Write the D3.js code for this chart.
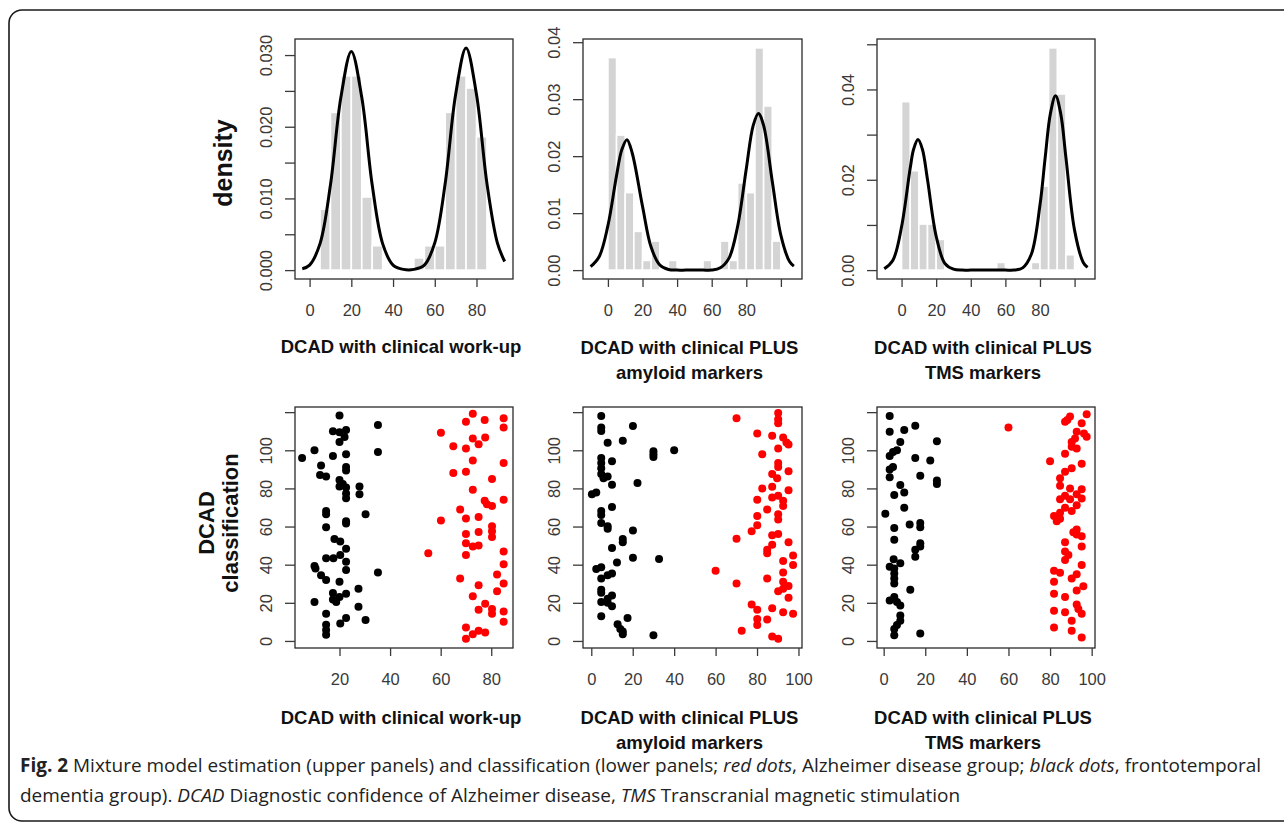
<!DOCTYPE html>
<html><head><meta charset="utf-8">
<script src="https://cdn.jsdelivr.net/npm/d3@7"></script>
<style>body{margin:0;background:#fff}svg{display:block}</style>
</head><body>
<script>
// ---------------- DATA ----------------
// Histograms (bin start, bin width 5) and density heights
const histA_start = [5,10,15,20,25,30,50,55,60,65,70,75,80];
const histA_dens  = [0.0085,0.0220,0.0271,0.0271,0.0102,0.0034,0.0017,0.0034,0.0034,0.0220,0.0271,0.0254,0.0186];
const histB_start = [0,5,10,15,20,25,35,55,65,70,75,80,85,90,95];
const histB_dens  = [0.0373,0.0237,0.0136,0.0068,0.0017,0.0051,0.0017,0.0017,0.0051,0.0017,0.0153,0.0136,0.0390,0.0288,0.0051];
const histC_start = [0,5,10,15,20,55,75,80,85,90,95];
const histC_dens  = [0.0373,0.0220,0.0102,0.0102,0.0068,0.0017,0.0017,0.0186,0.0492,0.0390,0.0034];

// Mixture density curves
const curveA_x = [-3.5,0,5,10,15,20,25,30,35,40,45,50,55,60,65,70,75,80,85,90,93.5];
const curveA_y = [0.0002,0.0007,0.0037,0.0119,0.0241,0.0305,0.0241,0.0119,0.0037,0.0007,0.0001,0.0001,0.0007,0.0038,0.0121,0.0245,0.0310,0.0245,0.0121,0.0038,0.0012];
const curveB_x = [-10,-5,0,5,8,11,14,20,25,30,35,40,45,50,55,60,65,70,75,80,84,87,90,95,100,105,107.5];
const curveB_y = [0.0006,0.0024,0.0078,0.0166,0.0211,0.0229,0.0206,0.0112,0.0040,0.0009,0.0001,0,0,0,0,0,0.0004,0.0021,0.0077,0.0178,0.0254,0.0275,0.0254,0.0156,0.0061,0.0015,0.0007];
const curveC_x = [-10,-5,0,5,7,9.5,12,15,20,25,30,35,40,45,50,55,60,65,70,75,80,83,86,89,92,95,100,105,107.5];
const curveC_y = [0.0003,0.0022,0.0096,0.0226,0.0268,0.0289,0.0268,0.0200,0.0075,0.0015,0.0002,0,0,0,0,0,0,0,0.0005,0.0035,0.0144,0.0249,0.0346,0.0386,0.0346,0.0249,0.0088,0.0017,0.0006];

// Classification scatter: [DCAD value, patient index]
const ftdA = [[5.2,95.9],[10.1,100],[12.7,92],[12.3,87],[14.7,86.2],[10.1,20.4],[10.1,39.3],[10.5,38],[12.7,34.5],[14.7,31.9],[14.7,68.1],[14.7,66.5],[14.7,59.6],[14.7,43.4],[14.7,14.2],[14.7,8.5],[14.7,5.7],[14.7,3.2],[20,118.2],[17.4,110],[20,109.4],[22.6,110.6],[20,104.4],[22,107],[17.4,97],[22.6,97.9],[22.6,91.2],[22.6,89.4],[20,84.4],[21.3,82.3],[22.6,80.5],[20,81],[22.6,77.3],[22.6,74.9],[27.9,81],[27.9,77],[30.3,66.4],[22.6,61.6],[22.6,62.8],[18,53.5],[20.3,52.2],[22.6,48.3],[17.6,43.4],[20.3,45.1],[22.6,41.6],[22.6,37.2],[20,31],[17.4,25.1],[17.4,21.8],[20,23],[22.6,24.8],[18.7,20.4],[27.5,27.4],[27.5,18],[30.3,11],[22.6,12],[20.3,9.2],[35.2,113.3],[35.2,99.1],[35.2,35.9]];
const adA = [[60.1,109.2],[65,102.1],[65,88.1],[70,115],[72.7,119.1],[77.4,115.9],[84.9,116.8],[84.9,112],[72.7,106.2],[70,100.9],[75,103.2],[77.6,106.7],[72.7,94.7],[70,88.8],[84.9,93.3],[80.3,85],[72.7,79.3],[84.9,74],[77.4,73.5],[78.3,71.7],[80.3,70.8],[67.7,69],[75,65],[70,64.2],[60.1,63.2],[80.3,60.2],[80.3,57.5],[80.3,54.5],[75,57.2],[70,56.1],[70,51.3],[72.7,49.6],[75,50.1],[70,45.1],[55.1,46],[84.9,46.9],[84.9,40.2],[82.3,34.9],[84.9,30.1],[67.7,32.7],[75,29.2],[72.7,23.4],[82.3,26],[75,16.3],[77.6,19.5],[80.3,16.8],[80.3,14.2],[84.9,15.4],[84.9,10.1],[70,7.1],[72.7,3.5],[70,1.2],[75,5.3],[77.6,4.4]];
const ftdB = [[4.8,118],[4.8,112],[4.8,110.1],[7.9,103.9],[15.2,105],[20.1,112.7],[30,99.5],[30,97.9],[30,96.5],[40,100],[4.8,95.9],[4.8,93.3],[10,94.2],[4.8,90.6],[4.8,87.6],[5.9,85.3],[7.9,86.2],[10,81.9],[22.3,82.8],[0.3,77],[2.4,77.9],[10,70.3],[4.8,68.1],[4.8,66],[4.8,61.9],[7.9,60.2],[7.9,58.9],[20.1,57.9],[15.2,53.5],[15.2,51.7],[10,48.7],[12.4,41.1],[20.1,43.7],[32.7,43],[2.4,37.7],[4.8,38.6],[4.8,32.7],[7.9,34.5],[10,35.4],[4.8,26.9],[4.8,25.3],[4.8,20.4],[7.9,22.1],[10,23.9],[10,18.2],[7.9,20],[4.8,12.9],[12.7,8.8],[15.2,5],[15.2,3.5],[17.5,12],[30,3],[14,6.2]];
const adB = [[70.1,116.8],[90.2,119.5],[90.2,116.3],[90.2,114.2],[80.1,108.8],[87.3,107.6],[92.6,106.7],[94.2,104.1],[95.2,103],[90.2,100.9],[82.5,97.9],[90.2,93.3],[90.2,91.2],[87.3,87.6],[95.2,89],[89.7,85.3],[82.5,80],[87.3,80.9],[95.2,79.1],[90.2,76.1],[80.1,74],[87.3,75.2],[92.6,73.5],[92.6,70.8],[84.9,69],[80.1,65.5],[90.2,66.4],[90.2,63.7],[80.1,60.7],[77.4,57.5],[70.1,53.6],[87.3,55.4],[90.2,56.1],[95.2,51.7],[84.9,47.8],[84.9,46],[87.3,50.4],[97.4,44.8],[92.6,41.9],[97.4,39.8],[60,36.8],[84.9,32.7],[92.6,35.9],[92.6,31],[95.2,28.8],[90.2,26],[70.1,30.1],[92.6,27.4],[95.2,22.7],[77.4,19.1],[80.1,16.3],[87.3,17.2],[92.6,15],[97.4,14.2],[80.1,11.5],[80.1,8.3],[84.9,11.2],[72.6,5.3],[87.3,2.3],[90.2,1.2]];
const ftdC = [[2.9,118],[2.9,109.7],[9.9,110.6],[15.2,112.9],[8,104.4],[25.6,104.8],[6.4,100],[4.5,99.1],[2.9,97],[15.2,95.9],[22.4,94.7],[4.5,91.2],[2.9,89.9],[2.9,85.8],[17.6,86.7],[25.6,84.1],[25.6,82.3],[8,81.8],[9.9,77.9],[5.1,76.5],[9.9,69.9],[0.8,66.7],[12.5,61.1],[17.6,61.9],[17.6,59.6],[5.1,59.3],[5.1,53.1],[17.6,51.3],[17.6,49.6],[15.2,47.8],[15.2,44.2],[4.8,42.8],[8,40.7],[2.9,38.9],[5.1,38],[5.1,35.4],[5.1,32.7],[5.1,30.1],[12.8,26.9],[2.9,21.2],[5.1,23],[6.4,20.4],[8,18.6],[8,13.3],[8,10.6],[6.4,8.3],[5.1,6.2],[5.1,3],[17.6,3.9]];
const adC = [[60,111.9],[97.6,118.9],[89.6,117.7],[88.3,115.9],[87.2,115],[95.2,114.2],[92.8,109.7],[96.3,108.8],[97.6,107.1],[92,106.2],[90.4,104.4],[90.4,101.8],[92.8,100.9],[87.2,98.2],[80,94.2],[95.2,92.9],[90.4,90.6],[87.2,88.8],[84.8,85.3],[84.8,81.4],[89.6,80],[95.2,79.6],[92.8,77],[87.2,76.1],[95.2,74.7],[84.8,74.3],[89.6,74.3],[92.8,71.2],[87.2,69.9],[90.4,68.1],[84.8,67.3],[81.9,65.5],[84.8,64.1],[83.2,62.8],[92.8,58.4],[91.2,57],[92.8,55.8],[95.2,54.9],[95.2,49.6],[87.2,51.7],[87.2,46.9],[88.8,45.1],[87.2,42.5],[95.2,39.8],[81.9,36.8],[84.8,35.8],[92.8,35],[90.4,32.7],[81.9,31],[96,28.7],[92.8,26.5],[87.2,23],[81.9,24.8],[92.8,19.1],[93.6,16.8],[81.9,15.9],[87.2,15],[90.4,10.6],[95.2,14.2],[90.4,5.3],[81.9,7.1],[95.2,1.8]];

// Tick values and labels
const xTicksTopA = [0,20,40,60,80];       const xLabTopA = ["0","20","40","60","80"];
const xTicksTopBC = [0,20,40,60,80,100];  const xLabTopBC = ["0","20","40","60","80",""];
const yTicksA = [0,0.005,0.01,0.015,0.02,0.025,0.03];
const yLabA = ["0.000","","0.010","","0.020","","0.030"];
const yTicksB = [0,0.01,0.02,0.03,0.04];  const yLabB = ["0.00","0.01","0.02","0.03","0.04"];
const yTicksC = [0,0.01,0.02,0.03,0.04,0.05]; const yLabC = ["0.00","","0.02","","0.04",""];
const xTicksBotA = [20,40,60,80];         const xLabBotA = ["20","40","60","80"];
const xTicksBotBC = [0,20,40,60,80,100];  const xLabBotBC = ["0","20","40","60","80","100"];
const yTicksBot = [0,20,40,60,80,100,120]; const yLabBot = ["0","20","40","60","80","100",""];

const titles = [["DCAD with clinical work-up"],["DCAD with clinical PLUS","amyloid markers"],["DCAD with clinical PLUS","TMS markers"]];

// ---------------- DRAW ----------------
const W=1284,H=829;
const svg=d3.select("body").append("svg").attr("width",W).attr("height",H);
svg.append("rect").attr("width",W).attr("height",H).attr("fill","#fff");
svg.append("rect").attr("x",9).attr("y",10).attr("width",1340).attr("height",811)
  .attr("rx",13).attr("fill","none").attr("stroke","#1a1a1a").attr("stroke-width",1.6);

const FONT="'Liberation Sans', Arial, Helvetica, sans-serif";
const tickCol="#3a3a3a";

function panel(p){
  const x=d3.scaleLinear().domain(p.xd).range([p.box[0],p.box[1]]);
  const y=d3.scaleLinear().domain(p.yd).range([p.box[3],p.box[2]]);
  const g=svg.append("g");
  p.draw(g,x,y);
  g.append("rect").attr("x",p.box[0]).attr("y",p.box[2])
    .attr("width",p.box[1]-p.box[0]).attr("height",p.box[3]-p.box[2])
    .attr("fill","none").attr("stroke","#2a2a2a").attr("stroke-width",1.3);
  // x axis
  const xa=g.append("g").attr("transform",`translate(0,${p.box[3]})`)
    .call(d3.axisBottom(x).tickValues(p.xt).tickSize(8).tickSizeOuter(0)
      .tickFormat((d,i)=>p.xl[i]));
  xa.select(".domain").remove();
  xa.selectAll("line").attr("stroke",tickCol).attr("stroke-width",1.3);
  xa.selectAll("text").attr("y",37).attr("dy",0).attr("fill",tickCol)
    .style("font-family",FONT).style("font-size","16.5px");
  // y axis
  const ya=g.append("g").attr("transform",`translate(${p.box[0]},0)`)
    .call(d3.axisLeft(y).tickValues(p.yt).tickSize(10).tickSizeOuter(0)
      .tickFormat((d,i)=>p.yl[i]));
  ya.select(".domain").remove();
  ya.selectAll("line").attr("stroke",tickCol).attr("stroke-width",1.3);
  ya.selectAll("text").attr("x",null).attr("dy",null)
    .attr("transform","translate(-23,0) rotate(-90)")
    .attr("text-anchor","middle").attr("fill",tickCol)
    .style("font-family",FONT).style("font-size","16.5px");
  // title
  const cx=(p.box[0]+p.box[1])/2;
  p.title.forEach((t,i)=>{
    svg.append("text").attr("x",cx-3).attr("y",p.ty+i*25).attr("text-anchor","middle")
      .style("font-family",FONT).style("font-weight","bold").style("font-size","18.5px")
      .attr("fill","#111").text(t);
  });
}

function histDraw(starts,dens,cx,cy){
  return (g,x,y)=>{
    g.selectAll("rect.bar").data(starts).join("rect").attr("class","bar")
      .attr("x",d=>x(d)).attr("width",d=>x(d+5)-x(d))
      .attr("y",(d,i)=>y(dens[i])).attr("height",(d,i)=>y(0)-y(dens[i]))
      .attr("fill","#d4d4d4").attr("stroke","#fff").attr("stroke-width",1.6);
    const line=d3.line().x(d=>x(d[0])).y(d=>y(d[1])).curve(d3.curveCatmullRom.alpha(0.5));
    g.append("path").datum(cx.map((v,i)=>[v,cy[i]])).attr("d",line)
      .attr("fill","none").attr("stroke","#000").attr("stroke-width",3);
  };
}
function scatDraw(black,red){
  return (g,x,y)=>{
    g.selectAll("circle.b").data(black).join("circle").attr("class","b")
      .attr("cx",d=>x(d[0])).attr("cy",d=>y(d[1])).attr("r",4).attr("fill","#000");
    g.selectAll("circle.r").data(red).join("circle").attr("class","r")
      .attr("cx",d=>x(d[0])).attr("cy",d=>y(d[1])).attr("r",4).attr("fill","#f00");
  };
}

const topY=[39,279], botY=[407,648];
panel({box:[295,513,...topY],xd:[-7,97.5],yd:[-0.00124,0.03224],xt:xTicksTopA,xl:xLabTopA,yt:yTicksA,yl:yLabA,
  draw:histDraw(histA_start,histA_dens,curveA_x,curveA_y),title:titles[0],ty:353});
panel({box:[583,802,...topY],xd:[-14.4,112.2],yd:[-0.00156,0.04056],xt:xTicksTopBC,xl:xLabTopBC,yt:yTicksB,yl:yLabB,
  draw:histDraw(histB_start,histB_dens,curveB_x,curveB_y),title:titles[1],ty:354});
panel({box:[877,1095,...topY],xd:[-14.2,111.8],yd:[-0.00197,0.05117],xt:xTicksTopBC,xl:xLabTopBC,yt:yTicksC,yl:yLabC,
  draw:histDraw(histC_start,histC_dens,curveC_x,curveC_y),title:titles[2],ty:354});
panel({box:[295,513,...botY],xd:[2.4,88.6],yd:[-3.7,122.7],xt:xTicksBotA,xl:xLabBotA,yt:yTicksBot,yl:yLabBot,
  draw:scatDraw(ftdA,adA),title:titles[0],ty:724});
panel({box:[583,802,...botY],xd:[-4,101.7],yd:[-3.7,122.7],xt:xTicksBotBC,xl:xLabBotBC,yt:yTicksBot,yl:yLabBot,
  draw:scatDraw(ftdB,adB),title:titles[1],ty:724});
panel({box:[877,1095,...botY],xd:[-3.2,101.6],yd:[-3.7,122.7],xt:xTicksBotBC,xl:xLabBotBC,yt:yTicksBot,yl:yLabBot,
  draw:scatDraw(ftdC,adC),title:titles[2],ty:724});

// y-axis titles
svg.append("text").attr("transform","translate(232,163) rotate(-90)").attr("text-anchor","middle")
  .style("font-family",FONT).style("font-weight","bold").style("font-size","25px").attr("fill","#111").text("density");
svg.append("text").attr("transform","translate(214,523) rotate(-90)").attr("text-anchor","middle")
  .style("font-family",FONT).style("font-weight","bold").style("font-size","22px").attr("fill","#111").text("DCAD");
svg.append("text").attr("transform","translate(238,523) rotate(-90)").attr("text-anchor","middle")
  .style("font-family",FONT).style("font-weight","bold").style("font-size","22px").attr("fill","#111").text("classification");

// caption
const CF="'Open Sans', 'Noto Sans', sans-serif";
const cap1=svg.append("text").attr("x",20).attr("y",772).style("font-family",CF).style("font-size","16px").attr("fill","#222");
cap1.append("tspan").style("font-weight","bold").text("Fig. 2");
cap1.append("tspan").text(" Mixture model estimation (upper panels) and classification (lower panels; ");
cap1.append("tspan").style("font-style","italic").text("red dots");
cap1.append("tspan").text(", Alzheimer disease group; ");
cap1.append("tspan").style("font-style","italic").text("black dots");
cap1.append("tspan").text(", frontotemporal");
const cap2=svg.append("text").attr("x",20).attr("y",802).style("font-family",CF).style("font-size","16px").attr("fill","#222");
cap2.append("tspan").text("dementia group). ");
cap2.append("tspan").style("font-style","italic").text("DCAD");
cap2.append("tspan").text(" Diagnostic confidence of Alzheimer disease, ");
cap2.append("tspan").style("font-style","italic").text("TMS");
cap2.append("tspan").text(" Transcranial magnetic stimulation");
// fit caption line 1 to the measured width in the figure
const w1=cap1.node().getComputedTextLength();
const fs=16*1242/w1;
cap1.style("font-size",fs+"px"); cap2.style("font-size",fs+"px");
</script>
</body></html>
